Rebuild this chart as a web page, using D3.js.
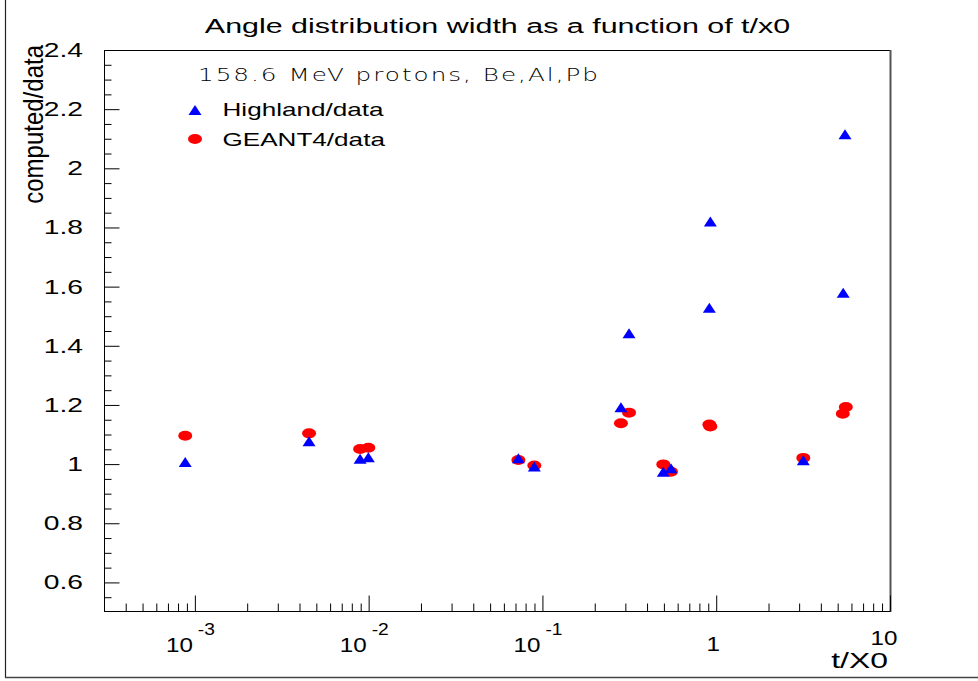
<!DOCTYPE html>
<html><head><meta charset="utf-8">
<script src="https://cdn.jsdelivr.net/npm/d3@7"></script>
<style>
body{margin:0;background:#fff}
svg{display:block}
text{font-family:"Liberation Sans",Arial,Helvetica,sans-serif;fill:#000}
</style></head>
<body><svg id="c" width="978" height="681"></svg>
<script>
// ---- data ----
const highlandX = [8.8e-4, 4.54e-3, 8.93e-3, 9.96e-3, 0.0727, 0.0898, 0.283, 0.315, 0.496, 0.549, 0.925, 0.913, 3.17, 5.51, 5.38];
const highlandY = [1.007, 1.077, 1.018, 1.023, 1.020, 0.992, 1.192, 1.442, 0.974, 0.986, 1.820, 1.529, 1.013, 2.115, 1.579];
const geantX    = [8.8e-4, 4.54e-3, 8.93e-3, 9.96e-3, 0.0727, 0.0898, 0.283, 0.315, 0.496, 0.549, 0.913, 0.925, 3.17, 5.57, 5.35];
const geantY    = [1.096, 1.104, 1.051, 1.055, 1.014, 0.995, 1.138, 1.174, 0.999, 0.974, 1.134, 1.127, 1.021, 1.193, 1.170];
const yTickValues = [0.6, 0.8, 1.0, 1.2, 1.4, 1.6, 1.8, 2.0, 2.2, 2.4];
const yTickLabels = ["0.6", "0.8", "1", "1.2", "1.4", "1.6", "1.8", "2", "2.2", "2.4"];
const xDecades = [1e-3, 1e-2, 1e-1, 1, 10];
const xLabelBase = ["10", "10", "10", "1", "10"];
const xLabelExp  = ["-3", "-2", "-1", "", ""];
const seriesNames = ["Highland/data", "GEANT4/data"];
const titleText = "Angle distribution width as a function of t/x0";
const subtitleText = "158.6 MeV protons, Be,Al,Pb";
const xTitle = "t/X0";
const yTitle = "computed/data";

// ---- setup ----
const svg = d3.select("#c");
const x = d3.scaleLog().domain([3e-4, 10]).range([104, 890]);
const y = d3.scaleLinear().domain([0.5, 2.4]).range([612, 50]);
const SX = 1.45;

function sText(g, px, py, str, size, anchor, sx) {
  return g.append("text")
    .attr("transform", `translate(${px},${py}) scale(${sx},1)`)
    .attr("text-anchor", anchor)
    .style("font-size", size + "px")
    .text(str);
}

// outer pad border
svg.append("line").attr("x1", 5.5).attr("x2", 5.5).attr("y1", 0).attr("y2", 678).attr("stroke", "#222").attr("stroke-width", 1.2);
svg.append("line").attr("x1", 5).attr("x2", 978).attr("y1", 677.5).attr("y2", 677.5).attr("stroke", "#444").attr("stroke-width", 1.5);

// frame top & right
svg.append("line").attr("x1", 104).attr("x2", 890).attr("y1", 50.5).attr("y2", 50.5).attr("stroke", "#000");
svg.append("line").attr("x1", 890.5).attr("x2", 890.5).attr("y1", 50).attr("y2", 612).attr("stroke", "#555").attr("stroke-width", 2);

// y axis
const yMinor = d3.range(0.55, 2.4, 0.05).filter(v => Math.abs(Math.round(v * 5) - v * 5) > 1e-6);
const yAxisMajor = d3.axisLeft(y).tickValues(yTickValues).tickSize(-15).tickFormat("");
const yAxisMinor = d3.axisLeft(y).tickValues(yMinor).tickSize(-7).tickFormat("");
const gy = svg.append("g").attr("transform", "translate(104.5,0)").call(yAxisMajor);
svg.append("g").attr("transform", "translate(104.5,0)").call(yAxisMinor).select(".domain").remove();
gy.select(".domain").attr("d", `M0,${y(0.5)}V${y(2.4)}`);
svg.selectAll(".tick line").attr("stroke", "#000");

yTickValues.forEach((v, i) => {
  sText(svg, 83, y(v) + 7, yTickLabels[i], 19.5, "end", SX);
});

// x axis
const xMinor = [];
[1e-4, 1e-3, 1e-2, 1e-1, 1].forEach(d => { for (let k = 2; k <= 9; k++) { const v = k * d; if (v > 3e-4 && v < 10) xMinor.push(v); } });
const xAxisMajor = d3.axisBottom(x).tickValues(xDecades).tickSize(-16).tickFormat("");
const xAxisMinor = d3.axisBottom(x).tickValues(xMinor).tickSize(-8).tickFormat("");
const gx = svg.append("g").attr("transform", "translate(0,611.5)").call(xAxisMajor);
svg.append("g").attr("transform", "translate(0,611.5)").call(xAxisMinor).select(".domain").remove();
gx.select(".domain").attr("d", `M104,0H890`);
svg.selectAll(".tick line").attr("stroke", "#000");

xDecades.forEach((v, i) => {
  const px = x(v);
  if (xLabelExp[i]) {
    sText(svg, px - 2, 652, xLabelBase[i], 20.5, "end", 1.18);
    sText(svg, px + 3, 635, xLabelExp[i], 16, "start", 1.2);
  } else if (i === xDecades.length - 1) {
    sText(svg, px - 6, 645, xLabelBase[i], 20.5, "middle", 1.18);
  } else {
    sText(svg, px - 3, 651, xLabelBase[i], 20.5, "middle", 1.18);
  }
});

// titles
sText(svg, 497.5, 33, titleText, 21, "middle", SX);
svg.append("text")
  .attr("transform", "translate(43,45) scale(1.15,1) rotate(-90)")
  .attr("text-anchor", "end")
  .style("font-size", "24px")
  .text(yTitle);
sText(svg, 888, 668, xTitle, 22, "end", SX);

// subtitle
sText(svg, 198, 81, subtitleText, 19, "start", SX)
  .attr("textLength", 400 / SX).attr("lengthAdjust", "spacing")
  .style("font-family", "'DejaVu Sans'").style("font-weight", 200).style("font-size", "17px");

// marker shape
function triPath(w, h) { return `M0,${-h/2}L${w/2},${h/2}L${-w/2},${h/2}Z`; }

// GEANT4 points (red ellipses)
svg.append("g").selectAll("ellipse").data(geantX.map((v, i) => [v, geantY[i]])).join("ellipse")
  .attr("cx", d => x(d[0])).attr("cy", d => y(d[1])).attr("rx", 7).attr("ry", 5).attr("fill", "#ff0000");

// Highland points (blue triangles)
svg.append("g").selectAll("path").data(highlandX.map((v, i) => [v, highlandY[i]])).join("path")
  .attr("transform", d => `translate(${x(d[0])},${y(d[1])})`)
  .attr("d", triPath(13, 10)).attr("fill", "#0000ff");

// legend
svg.append("path").attr("transform", "translate(195,110)").attr("d", triPath(13, 10)).attr("fill", "#0000ff");
svg.append("ellipse").attr("cx", 195).attr("cy", 139).attr("rx", 7).attr("ry", 5).attr("fill", "#ff0000");
sText(svg, 222.5, 116, seriesNames[0], 18, "start", SX);
sText(svg, 222.5, 146, seriesNames[1], 18, "start", SX);
</script></body></html>
